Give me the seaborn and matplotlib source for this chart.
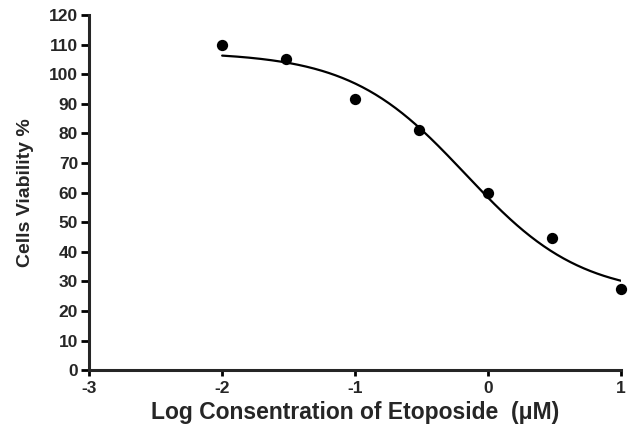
import numpy as np
import pandas as pd
import matplotlib
matplotlib.use("Agg")
import matplotlib.pyplot as plt
import seaborn as sns

# Data
log_conc = [-2.0, -1.52, -1.0, -0.52, 0.0, 0.48, 1.0]
viability = [109.8, 105.0, 91.5, 81.0, 59.8, 44.8, 27.6]
x_ticks = [-3, -2, -1, 0, 1]
y_ticks = list(range(0, 121, 10))

# Parameters of the fitted sigmoidal dose-response curve
fit_top = 107.5
fit_bottom = 25.0
fit_log_ec50 = -0.17
fit_hill = 1.0

sns.set_style("ticks")
plt.rcParams["font.family"] = ["Liberation Sans", "DejaVu Sans"]
plt.rcParams["font.weight"] = "bold"

xc = np.linspace(min(log_conc), max(log_conc), 300)
yc = fit_bottom + (fit_top - fit_bottom) / (1.0 + 10 ** ((xc - fit_log_ec50) * fit_hill))

pts = pd.DataFrame({"x": log_conc, "y": viability})
curve = pd.DataFrame({"x": xc, "y": yc})

fig = plt.figure(figsize=(6.28, 4.30), dpi=100)
ax = fig.add_axes([0.142, 0.139, 0.847, 0.826])
sns.lineplot(data=curve, x="x", y="y", ax=ax, color="black", lw=1.6)
sns.scatterplot(data=pts, x="x", y="y", ax=ax, color="black", s=66,
                edgecolor="black", linewidth=0, zorder=5, clip_on=False)

ax.set_xlim(-3, 1)
ax.set_ylim(0, 120)
ax.set_xticks(x_ticks)
ax.set_yticks(y_ticks)
ax.set_xticklabels([str(t) for t in x_ticks], fontsize=12.5, fontweight="bold")
ax.set_yticklabels([str(t) for t in y_ticks], fontsize=12.5, fontweight="bold")
for s in ["top", "right"]:
    ax.spines[s].set_visible(False)
for s in ["left", "bottom"]:
    ax.spines[s].set_linewidth(2.2)
ax.tick_params(axis="y", width=2, length=6, pad=2, color="black")
ax.tick_params(axis="x", width=2, length=4, pad=4, color="black")
ax.set_xlabel("Log Consentration of Etoposide  (\u03bcM)", fontsize=16.5, fontweight="bold", labelpad=3)
ax.set_ylabel("Cells Viability %", fontsize=14, fontweight="bold", labelpad=11)

fig.savefig("out.png", dpi=100)
